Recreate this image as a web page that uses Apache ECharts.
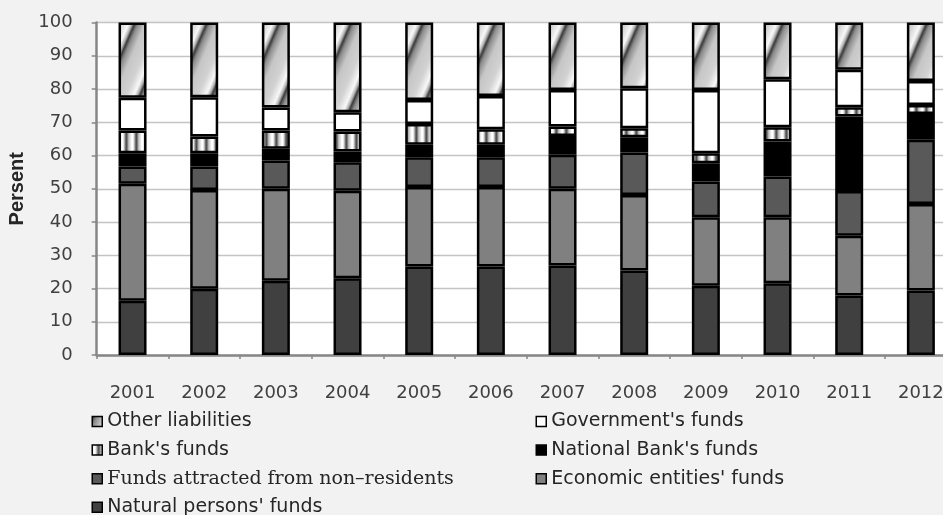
<!DOCTYPE html>
<html>
<head>
<meta charset="utf-8">
<script src="https://cdn.jsdelivr.net/npm/echarts@6/dist/echarts.min.js"></script>
<style>
  html, body { margin: 0; padding: 0; background: #f2f2f2; }
  #chart { width: 943px; height: 515px; }
</style>
</head>
<body>
<div id="chart"></div>
<script>
// Structure of bank liabilities, percent of total, 2001-2012
const years = ['2001', '2002', '2003', '2004', '2005', '2006', '2007', '2008', '2009', '2010', '2011', '2012'];
const yTicks = { min: 0, max: 100, step: 10 };

const naturalPersons   = [16.3, 19.9, 22.3, 23.1, 26.6, 26.6, 26.9, 25.4, 20.8, 21.6, 17.9, 19.4];
const economicEntities = [35.2, 29.7, 27.7, 26.3, 23.9, 23.9, 23.1, 22.7, 20.6, 19.8, 18.0, 26.0];
const nonResidents     = [ 5.2,  7.1,  8.5,  8.6,  9.0,  9.0, 10.2, 12.8, 10.8, 12.3, 13.4, 19.3];
const nationalBank     = [ 4.0,  4.0,  3.5,  3.2,  3.7,  3.7,  5.7,  4.6,  5.5, 10.5, 22.4,  7.8];
const banks            = [ 6.8,  5.0,  5.5,  6.0,  6.3,  4.7,  2.8,  2.7,  3.0,  4.3,  2.8,  2.7];
const government       = [ 9.9, 11.8,  6.9,  5.8,  7.2, 10.0, 11.0, 12.0, 19.0, 14.4, 11.3,  7.2];
const otherLiabilities = [22.6, 22.5, 25.6, 27.0, 23.3, 22.1, 20.3, 19.8, 20.3, 17.1, 14.2, 17.6];

const NAMES = {
  other: 'Other liabilities',
  gov: "Government's funds",
  bank: "Bank's funds",
  nb: "National Bank's funds",
  nonres: 'Funds attracted from non–residents',
  econ: "Economic entities' funds",
  natural: "Natural persons' funds"
};

// --- fill patterns -------------------------------------------------------
function hexToRgb(h) {
  return [parseInt(h.slice(1, 3), 16), parseInt(h.slice(3, 5), 16), parseInt(h.slice(5, 7), 16)];
}
function rampColor(stops, p) {
  for (let i = 0; i < stops.length - 1; i++) {
    const a = stops[i], b = stops[i + 1];
    if (p >= a[0] && p <= b[0]) {
      const t = (p - a[0]) / (b[0] - a[0] || 1);
      const ca = hexToRgb(a[1]), cb = hexToRgb(b[1]);
      return ca.map((v, k) => Math.round(v + (cb[k] - v) * t));
    }
  }
  return hexToRgb(stops[stops.length - 1][1]);
}
// Diagonal shaded stripes "/" for other liabilities
function diagonalPattern() {
  const W = 36, H = 84;
  const c = document.createElement('canvas');
  c.width = W; c.height = H;
  const ctx = c.getContext('2d');
  const img = ctx.createImageData(W, H);
  const stops = [[0, '#3c3c3c'], [0.1, '#8c8c8c'], [0.3, '#c6c6c6'], [0.62, '#d2d2d2'],
                 [0.84, '#f8f8f8'], [0.93, '#b4b4b4'], [1, '#3c3c3c']];
  for (let y = 0; y < H; y++) {
    for (let x = 0; x < W; x++) {
      const p = (x / W + y / H) % 1;
      const col = rampColor(stops, p);
      const i = (y * W + x) * 4;
      img.data[i] = col[0]; img.data[i + 1] = col[1]; img.data[i + 2] = col[2]; img.data[i + 3] = 255;
    }
  }
  ctx.putImageData(img, 0, 0);
  return c;
}
// Vertical shaded stripes for bank funds
function verticalPattern() {
  const shades = ['#e4e4e4', '#fafafa', '#ffffff', '#e6e6e6', '#b0b0b0', '#707070', '#505050', '#7c7c7c', '#b4b4b4', '#d2d2d2'];
  const c = document.createElement('canvas');
  c.width = shades.length; c.height = 4;
  const ctx = c.getContext('2d');
  shades.forEach((s, i) => { ctx.fillStyle = s; ctx.fillRect(i, 0, 1, 4); });
  return c;
}

const patternOther = { image: diagonalPattern(), repeat: 'repeat' };
const patternBank = { image: verticalPattern(), repeat: 'repeat' };

// --- series --------------------------------------------------------------
function barSeries(name, data, color) {
  return {
    name: name,
    type: 'bar',
    stack: 'total',
    barWidth: 28,
    data: data,
    itemStyle: { color: color, borderColor: '#000', borderWidth: 2.5 },
    emphasis: { disabled: true }
  };
}

const series = [
  barSeries(NAMES.natural, naturalPersons, '#404040'),
  barSeries(NAMES.econ, economicEntities, '#808080'),
  barSeries(NAMES.nonres, nonResidents, '#595959'),
  barSeries(NAMES.nb, nationalBank, '#000000'),
  barSeries(NAMES.bank, banks, patternBank),
  barSeries(NAMES.gov, government, '#ffffff'),
  barSeries(NAMES.other, otherLiabilities, patternOther)
];

// Legend: two columns, one legend component per entry
const legendText = {
  fontFamily: 'DejaVu Sans',
  fontSize: 19,
  color: '#262626',
  lineHeight: 20,
  rich: { serif: { fontFamily: 'DejaVu Serif', fontSize: 19, color: '#262626', lineHeight: 20 } }
};
const legendCols = [91.5, 535.5];
const legendRowTop = 411.5, legendRowStep = 28.6;
const legendLayout = [
  [NAMES.other, 0, 0], [NAMES.gov, 1, 0],
  [NAMES.bank, 0, 1], [NAMES.nb, 1, 1],
  [NAMES.nonres, 0, 2], [NAMES.econ, 1, 2],
  [NAMES.natural, 0, 3]
];
const legends = legendLayout.map(([name, col, row]) => ({
  left: legendCols[col],
  top: legendRowTop + row * legendRowStep,
  padding: 0,
  itemWidth: 10,
  itemHeight: 10,
  icon: 'rect',
  selectedMode: false,
  itemStyle: { borderColor: '#000', borderWidth: 1.5 },
  textStyle: legendText,
  formatter: n => n === NAMES.nonres ? '{serif|' + n + '}' : n,
  data: [name]
}));

const chart = echarts.init(document.getElementById('chart'), null, { renderer: 'canvas' });
chart.setOption({
  backgroundColor: '#f2f2f2',
  animation: false,
  grid: {
    left: 96.7, top: 22.5, width: 860, height: 332.5,
    outerBoundsMode: 'none',
    containLabel: false,
    show: true, backgroundColor: '#ffffff', borderWidth: 0
  },
  legend: legends,
  xAxis: {
    type: 'category',
    data: years,
    axisLine: { lineStyle: { color: '#868686', width: 2.5 } },
    axisTick: { show: true, length: 4, lineStyle: { color: '#868686', width: 1.5 } },
    axisLabel: { fontFamily: 'DejaVu Sans', fontSize: 18, color: '#404040', margin: 29, hideOverlap: false }
  },
  yAxis: {
    type: 'value',
    min: yTicks.min, max: yTicks.max, interval: yTicks.step,
    name: 'Persent',
    nameLocation: 'middle',
    nameRotate: 90,
    nameGap: 68,
    nameTextStyle: { fontFamily: 'Liberation Sans', fontWeight: 'bold', fontSize: 20, color: '#262626' },
    axisLine: { show: true, lineStyle: { color: '#868686', width: 2.5 } },
    axisTick: { show: true, length: 5, lineStyle: { color: '#868686', width: 1.5 } },
    axisLabel: { fontFamily: 'DejaVu Sans', fontSize: 18, color: '#404040', margin: 24 },
    splitLine: { lineStyle: { color: '#c4c4c4', width: 1.3 } }
  },
  series: series
});
</script>
</body>
</html>
